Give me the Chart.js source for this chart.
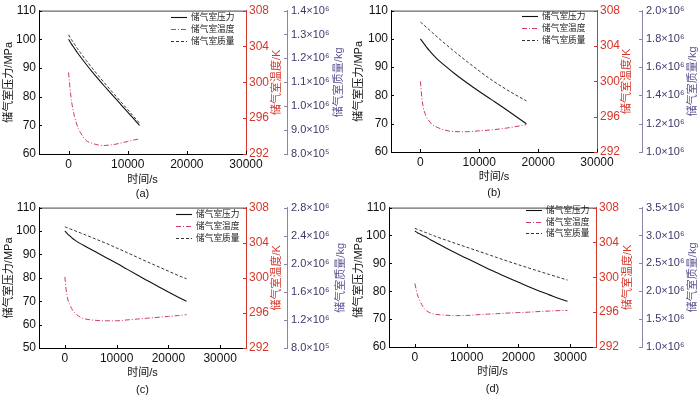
<!DOCTYPE html>
<html>
<head>
<meta charset="utf-8">
<script src="https://cdn.jsdelivr.net/npm/chart.js@4.4.0/dist/chart.umd.min.js"></script>
<style>
  html, body { margin: 0; padding: 0; background: #fff; }
  #wrap { position: relative; width: 700px; height: 397px; overflow: hidden; background: #fff; }
  #wrap canvas { position: absolute; }
</style>
</head>
<body>
<div id="wrap">
  <canvas id="cA" width="350" height="205" style="left:0;top:0"></canvas>
  <canvas id="cB" width="350" height="205" style="left:350px;top:0"></canvas>
  <canvas id="cC" width="350" height="205" style="left:0;top:197px"></canvas>
  <canvas id="cD" width="350" height="205" style="left:350px;top:197px"></canvas>
</div>
<script>
// ---- data ----
const seriesNames = ['储气室压力', '储气室温度', '储气室质量'];
const xTitle = '时间/s';
const pressureTitle = '储气室压力/MPa';
const tempTitle = '储气室温度/K';
const massTitle = '储气室质量/kg';

const timeTicks = [0, 10000, 20000, 30000];
const pressureTicks = [60, 70, 80, 90, 100, 110];
const pressureTicksC = [50, 60, 70, 80, 90, 100, 110];
const tempTicks = [292, 296, 300, 304, 308];
const massTicksA = [8.0e5, 9.0e5, 1.0e6, 1.1e6, 1.2e6, 1.3e6, 1.4e6];
const massTicksB = [1.0e6, 1.2e6, 1.4e6, 1.6e6, 1.8e6, 2.0e6];
const massTicksC = [8.0e5, 1.2e6, 1.6e6, 2.0e6, 2.4e6, 2.8e6];
const massTicksD = [1.0e6, 1.5e6, 2.0e6, 2.5e6, 3.0e6, 3.5e6];

// (a)
const timeA = [0, 250, 500, 1000, 1500, 2000, 3000, 4000, 5000, 6000, 7000, 8000, 9000, 10000, 11000, 12000];
const pressureA = [100, 99.15, 98.3, 96.8, 95.3, 93.9, 91.2, 88.65, 86.2, 83.8, 81.5, 79.2, 76.9, 74.6, 72.3, 70.0];
const tempA = [301.1, 299.3, 297.9, 296.2, 295.1, 294.4, 293.5, 293.2, 293.0, 292.95, 293.0, 293.1, 293.25, 293.4, 293.55, 293.7];
const massA = [1.2988e6, 1.2883e6, 1.2779e6, 1.2595e6, 1.2411e6, 1.2239e6, 1.1907e6, 1.1592e6, 1.1290e6, 1.0994e6, 1.0709e6, 1.0425e6, 1.0141e6, 0.9856e6, 0.9572e6, 0.9288e6];

// (b)
const timeB = [0, 250, 500, 1000, 1500, 2000, 3000, 4000, 6000, 8000, 10000, 12000, 14000, 16000, 18000];
const pressureB = [100, 99.3, 98.6, 97.2, 95.9, 94.7, 92.6, 90.8, 87.4, 84.3, 81.4, 78.6, 75.8, 72.9, 70.0];
const tempB = [300.0, 298.1, 297.0, 296.0, 295.5, 295.1, 294.75, 294.5, 294.3, 294.3, 294.4, 294.5, 294.65, 294.85, 295.1];
const massB = [1.919e6, 1.910e6, 1.901e6, 1.882e6, 1.864e6, 1.845e6, 1.808e6, 1.772e6, 1.703e6, 1.637e6, 1.573e6, 1.512e6, 1.458e6, 1.408e6, 1.362e6];

// (c)
const timeC = [0, 250, 500, 1000, 1500, 2000, 3000, 4000, 6000, 8000, 10000, 12000, 14000, 16000, 18000, 20000, 22000, 23500];
const pressureC = [100, 99.4, 98.8, 97.8, 96.8, 96.0, 94.6, 93.4, 91.0, 88.6, 86.2, 83.7, 81.2, 78.7, 76.3, 73.9, 71.6, 70.0];
const tempC = [300.1, 298.6, 297.7, 296.9, 296.3, 295.95, 295.5, 295.3, 295.15, 295.1, 295.1, 295.2, 295.3, 295.4, 295.5, 295.6, 295.7, 295.8];
const massC = [2.526e6, 2.519e6, 2.511e6, 2.497e6, 2.483e6, 2.469e6, 2.440e6, 2.411e6, 2.350e6, 2.290e6, 2.225e6, 2.160e6, 2.092e6, 2.025e6, 1.960e6, 1.895e6, 1.830e6, 1.786e6];

// (d)
const timeD = [0, 250, 500, 1000, 1500, 2000, 3000, 4000, 6000, 8000, 10000, 12000, 14000, 16000, 18000, 20000, 22000, 24000, 26000, 28000, 29500];
const pressureD = [101.6, 101.3, 101.0, 100.5, 100.0, 99.6, 98.5, 97.5, 95.5, 93.6, 91.8, 90.0, 88.2, 86.5, 84.8, 83.2, 81.6, 80.1, 78.7, 77.3, 76.4];
const tempD = [299.3, 298.6, 298.0, 297.25, 296.7, 296.3, 295.9, 295.75, 295.65, 295.6, 295.62, 295.7, 295.77, 295.83, 295.9, 295.95, 296.0, 296.07, 296.13, 296.18, 296.2];
const massD = [3.128e6, 3.119e6, 3.110e6, 3.092e6, 3.073e6, 3.055e6, 3.019e6, 2.983e6, 2.917e6, 2.853e6, 2.790e6, 2.727e6, 2.664e6, 2.600e6, 2.537e6, 2.476e6, 2.416e6, 2.358e6, 2.300e6, 2.243e6, 2.200e6];

// ---- styling ----
const FONT = "'Liberation Sans', Arial, 'Noto Sans CJK SC', sans-serif";
const RED = '#d4372c';
const PURPLE_TXT = '#3d3768';
const PURPLE_LINE = '#8a84a6';

const SUP = '⁰¹²³⁴⁵⁶⁷⁸⁹';
function sci(v) {
    const e = Math.floor(Math.log10(v) + 1e-9);
    const m = v / Math.pow(10, e);
    return m.toFixed(1) + '×10' + String(e).split('').map(c => SUP[+c]).join('');
}

function pairs(xs, ys) {
    return xs.map((x, i) => ({ x: x, y: ys[i] }));
}

function fixTicks(list) {
    return function (scale) { scale.ticks = list.map(v => ({ value: v })); };
}

// draws top frame, inward tick marks and right-hand rotated titles
const axisDeco = {
    id: 'axisDeco',
    afterDraw(chart, args, opts) {
        const ctx = chart.ctx;
        const a = chart.chartArea;
        const s = chart.scales;
        ctx.save();
        ctx.lineWidth = 1;
        ctx.strokeStyle = '#444';
        ctx.beginPath();
        ctx.moveTo(a.left, a.top + 0.5);
        ctx.lineTo(a.right, a.top + 0.5);
        ctx.stroke();

        function marks(scale, x0, dir, color, horiz) {
            ctx.strokeStyle = color;
            ctx.beginPath();
            scale.ticks.forEach((t, i) => {
                const p = Math.round(scale.getPixelForTick(i)) + 0.5;
                if (horiz) { ctx.moveTo(p, x0); ctx.lineTo(p, x0 - 3); }
                else { ctx.moveTo(x0, p); ctx.lineTo(x0 + dir * 3, p); }
            });
            ctx.stroke();
        }
        marks(s.x, a.bottom, 0, '#000', true);
        marks(s.y, a.left, 1, '#000', false);
        marks(s.yT, a.right, -1, RED, false);
        marks(s.yM, s.yM.left, -1, PURPLE_LINE, false);

        ctx.font = '11px ' + FONT;
        ctx.textAlign = 'center';
        ctx.textBaseline = 'middle';
        [[s.yT, opts.redDx, tempTitle, RED], [s.yM, opts.purDx, massTitle, '#5a5290']].forEach(r => {
            ctx.save();
            ctx.translate(r[0].left + r[1], (r[0].top + r[0].bottom) / 2);
            ctx.rotate(-Math.PI / 2);
            ctx.fillStyle = r[3];
            ctx.fillText(r[2], 0, 0);
            ctx.restore();
        });
        ctx.restore();
    }
};

// small legend inside the plot, built from the datasets
const legendBox = {
    id: 'legendBox',
    afterDraw(chart, args, opts) {
        const ctx = chart.ctx;
        ctx.save();
        ctx.font = '8.7px ' + FONT;
        ctx.textBaseline = 'middle';
        chart.data.datasets.forEach((ds, i) => {
            const y = Math.round(opts.y + i * opts.gap) + 0.5;
            ctx.strokeStyle = ds.borderColor;
            ctx.lineWidth = ds.borderWidth;
            ctx.setLineDash(ds.borderDash || []);
            ctx.beginPath();
            ctx.moveTo(opts.x, y);
            ctx.lineTo(opts.x + 16, y);
            ctx.stroke();
            ctx.setLineDash([]);
            ctx.fillStyle = '#222';
            ctx.fillText(ds.label, opts.x + 20, y);
        });
        ctx.restore();
    }
};

const panels = [
    { id: 'cA', t: timeA, p: pressureA, T: tempA, m: massA, pTicks: pressureTicks, mTicks: massTicksA, xMax: 30000, tag: '(a)',
      left: 39, right: 246, top: 10, bottom: 154, redW: 41, lh: 14, pad: 4, redDx: 31, purDx: 52, legend: { x: 171, y: 16.5, gap: 12 } },
    { id: 'cB', t: timeB, p: pressureB, T: tempB, m: massB, pTicks: pressureTicks, mTicks: massTicksB, xMax: 30000, tag: '(b)',
      left: 41, right: 247, top: 8, bottom: 152, redW: 45, lh: 16, pad: 4, redDx: 30, purDx: 51, legend: { x: 172, y: 15.7, gap: 12 } },
    { id: 'cC', t: timeC, p: pressureC, T: tempC, m: massC, pTicks: pressureTicksC, mTicks: massTicksC, xMax: 35000, tag: '(c)',
      left: 39, right: 246, top: 7, bottom: 151, redW: 41, lh: 17, pad: 4, redDx: 31, purDx: 54, legend: { x: 176, y: 17.3, gap: 12 } },
    { id: 'cD', t: timeD, p: pressureD, T: tempD, m: massD, pTicks: pressureTicks, mTicks: massTicksD, xMax: 35000, tag: '(d)',
      left: 39, right: 246, top: 7, bottom: 150, redW: 46, lh: 17, pad: 5, redDx: 32, purDx: 51, legend: { x: 176, y: 13, gap: 11.7 } }
];

panels.forEach(function (g) {
    const canvas = document.getElementById(g.id);
    const W = canvas.width, H = canvas.height;
    const tickFont = { family: FONT, size: 12 };

    new Chart(canvas.getContext('2d'), {
        type: 'line',
        data: {
            datasets: [{
                label: seriesNames[0],
                data: pairs(g.t, g.p),
                yAxisID: 'y',
                borderColor: '#111',
                borderWidth: 1.1,
                pointRadius: 0,
                cubicInterpolationMode: 'monotone'
            }, {
                label: seriesNames[1],
                data: pairs(g.t, g.T),
                yAxisID: 'yT',
                borderColor: '#cc3a66',
                borderWidth: 1,
                borderDash: [5, 2, 1, 2],
                pointRadius: 0,
                cubicInterpolationMode: 'monotone'
            }, {
                label: seriesNames[2],
                data: pairs(g.t, g.m),
                yAxisID: 'yM',
                borderColor: '#333',
                borderWidth: 1,
                borderDash: [3, 2],
                pointRadius: 0,
                cubicInterpolationMode: 'monotone'
            }]
        },
        options: {
            responsive: false,
            animation: false,
            events: [],
            layout: { padding: { top: g.top, left: 0, right: 0, bottom: 0 } },
            plugins: {
                legend: { display: false },
                tooltip: { enabled: false },
                legendBox: g.legend,
                axisDeco: { redDx: g.redDx, purDx: g.purDx }
            },
            scales: {
                x: {
                    type: 'linear',
                    min: -5000,
                    max: g.xMax,
                    afterBuildTicks: fixTicks(timeTicks),
                    afterFit: s => { s.height = H - g.bottom; },
                    grid: { display: false, drawTicks: false },
                    border: { display: true, color: '#000', width: 1 },
                    ticks: { color: '#111', font: tickFont, padding: 3, maxRotation: 0, autoSkip: false, callback: v => String(v) },
                    title: {
                        display: true,
                        text: [xTitle, g.tag],
                        color: '#111',
                        font: { family: FONT, size: 11, lineHeight: g.lh + 'px' },
                        padding: { top: 0, bottom: g.pad }
                    }
                },
                y: {
                    position: 'left',
                    min: g.pTicks[0],
                    max: g.pTicks[g.pTicks.length - 1],
                    afterBuildTicks: fixTicks(g.pTicks),
                    afterFit: s => { s.width = g.left; },
                    grid: { display: false, drawTicks: false },
                    border: { display: true, color: '#000', width: 1 },
                    ticks: { color: '#111', font: tickFont, padding: 3, callback: v => String(v) },
                    title: { display: true, text: pressureTitle, color: '#111', font: { family: FONT, size: 11 }, padding: { top: 2, bottom: 0 } }
                },
                yT: {
                    position: 'right',
                    min: tempTicks[0],
                    max: tempTicks[tempTicks.length - 1],
                    afterBuildTicks: fixTicks(tempTicks),
                    afterFit: s => { s.width = g.redW; },
                    grid: { display: false, drawTicks: false },
                    border: { display: true, color: RED, width: 1 },
                    ticks: { color: RED, font: tickFont, padding: 3, callback: v => String(v) }
                },
                yM: {
                    position: 'right',
                    min: g.mTicks[0],
                    max: g.mTicks[g.mTicks.length - 1],
                    afterBuildTicks: fixTicks(g.mTicks),
                    afterFit: s => { s.width = W - g.right - g.redW; },
                    grid: { display: false, drawTicks: false },
                    border: { display: true, color: PURPLE_LINE, width: 1 },
                    ticks: { color: PURPLE_TXT, font: { family: FONT, size: 11 }, padding: 4, callback: v => sci(v) }
                }
            }
        },
        plugins: [axisDeco, legendBox]
    });
});
</script>
</body>
</html>
